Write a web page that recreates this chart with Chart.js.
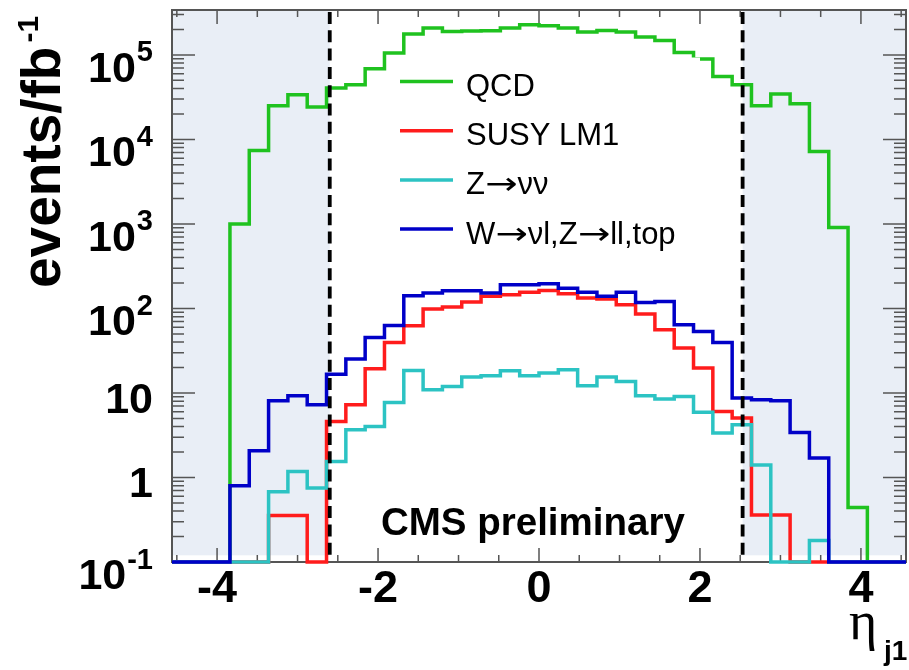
<!DOCTYPE html>
<html>
<head>
<meta charset="utf-8">
<script src="https://cdn.jsdelivr.net/npm/chart.js@4.4.0/dist/chart.umd.min.js"></script>
<style>
  html, body { margin: 0; padding: 0; background: #fff; }
  #wrap { width: 909px; height: 670px; }
</style>
</head>
<body>
<div id="wrap"><canvas id="c" width="909" height="670"></canvas></div>
<script>
// eta of leading jet, 38 bins of 0.24 from -4.56 to 4.56, events / fb^-1 per bin (0 = empty bin)
const binLow = -4.56;
const binWidth = 0.24;

const qcd  = [0, 0, 0, 1000, 7400, 25000, 33800, 24200, 40600, 44400, 68700, 105300, 176700, 208000,
              189700, 192000, 193300, 208000, 227700, 221600, 208000, 186700, 195000, 186700, 162800,
              148500, 107100, 89400, 55700, 44400, 25000, 34500, 26500, 7210, 909, 0.44, 0, 0];
const susy = [0, 0, 0, 0, 0, 0.355, 0.355, 0, 4.6, 7.25, 19.3, 39.6, 62.4, 98.4, 104, 119, 139, 145,
              155, 163, 149, 133, 129, 111, 85.9, 56, 34, 19.7, 6.04, 5.05, 0.36, 0.36, 0, 0, 0, 0, 0, 0];
const znn  = [0, 0, 0, 0, 0, 0.68, 1.18, 0.75, 1.55, 3.67, 4.0, 7.7, 18.5, 10.9, 11.9, 15.4, 16, 18.3,
              16, 17.2, 18.8, 12.2, 15.4, 13.7, 9.3, 8.5, 9.1, 5.9, 3.35, 4.2, 1.41, 0, 0, 0.18, 0, 0, 0, 0];
const wzt  = [0, 0, 0, 0.80, 2.07, 8.1, 9.3, 7.25, 16.7, 25.2, 45.4, 62.9, 141, 152, 162, 162, 152, 191,
              191, 196, 174, 155, 139, 155, 118, 121, 64, 53.4, 39.6, 8.7, 8.3, 8.1, 3.41, 1.70, 0, 0, 0, 0];

const xTickValues = [-4, -2, 0, 2, 4];
const yTickValues = [0.1, 1, 10, 100, 1000, 10000, 100000];
const yTickBase   = ['10', '1', '10', '10', '10', '10', '10'];
const yTickSup    = ['-1', '', '', '2', '3', '4', '5'];

const yMin = 0.1;
const yMax = 3.4e5;
const etaCutLow = -2.6;
const etaCutHigh = 2.53;
const bandFloor = 0.12;

const FONT = '"Liberation Sans", Arial, Helvetica, sans-serif';
const ARROW_FONT = '"DejaVu Sans", sans-serif';

function histPoints(values) {
  const pts = values.map((v, i) => ({ x: binLow + i * binWidth, y: v > 0 ? v : yMin }));
  pts.push({ x: binLow + values.length * binWidth, y: pts[pts.length - 1].y });
  return pts;
}

function hist(label, values, color, order) {
  return {
    label: label,
    data: histPoints(values),
    borderColor: color,
    backgroundColor: color,
    borderWidth: 3.5,
    stepped: 'before',
    pointRadius: 0,
    fill: false,
    clip: false,
    order: order
  };
}

// legend text, arrows taken from a font with a longer arrow glyph
function drawLabel(ctx, text, x, y, size) {
  let cx = x;
  for (const ch of text) {
    ctx.font = size + 'px ' + (ch === '\u2192' ? ARROW_FONT : FONT);
    const w = ctx.measureText(ch).width;
    if (ch === '\u2192') {
      ctx.save();
      ctx.translate(cx, y);
      ctx.scale(1.25, 1);
      ctx.fillText(ch, 0, 0);
      ctx.restore();
      cx += w * 1.25;
    } else {
      ctx.fillText(ch, cx, y);
      cx += w;
    }
  }
}

const decor = {
  id: 'decor',
  beforeDatasetsDraw(chart) {
    const { ctx, chartArea: a, scales: { x, y } } = chart;
    ctx.save();
    // forward regions
    const yb = y.getPixelForValue(bandFloor);
    const xl = x.getPixelForValue(etaCutLow);
    const xr = x.getPixelForValue(etaCutHigh);
    ctx.fillStyle = '#e9eef6';
    ctx.fillRect(a.left, a.top, xl - a.left, yb - a.top);
    ctx.fillRect(xr, a.top, a.right - xr, yb - a.top);

    // tick marks, inside the frame on all four sides
    ctx.strokeStyle = '#555';
    ctx.lineWidth = 1.5;
    ctx.beginPath();
    for (let i = -9; i <= 9; i++) {
      const v = i * 0.5;
      const px = x.getPixelForValue(v);
      const len = xTickValues.includes(v) ? 14 : 7;
      ctx.moveTo(px, a.bottom); ctx.lineTo(px, a.bottom - len);
      ctx.moveTo(px, a.top); ctx.lineTo(px, a.top + len);
    }
    for (let e = -1; e <= 5; e++) {
      for (let m = 1; m <= 9; m++) {
        const v = m * Math.pow(10, e);
        if (v < yMin || v > yMax) continue;
        const py = y.getPixelForValue(v);
        const len = m === 1 ? 23 : 12;
        ctx.moveTo(a.left, py); ctx.lineTo(a.left + len, py);
        ctx.moveTo(a.right, py); ctx.lineTo(a.right - len, py);
      }
    }
    ctx.stroke();
    ctx.lineWidth = 2;
    ctx.strokeRect(a.left, a.top, a.right - a.left, a.bottom - a.top);
    ctx.restore();
  },
  afterDatasetsDraw(chart) {
    const { ctx, chartArea: a, scales: { x, y } } = chart;
    ctx.save();
    // eta cut lines
    ctx.strokeStyle = '#000';
    ctx.lineWidth = 3.8;
    ctx.setLineDash([12, 6.3]);
    const yb = y.getPixelForValue(bandFloor);
    [etaCutLow, etaCutHigh].forEach(v => {
      const px = x.getPixelForValue(v);
      ctx.beginPath();
      ctx.moveTo(px, a.top + 2);
      ctx.lineTo(px, yb);
      ctx.stroke();
    });
    ctx.setLineDash([]);

    // legend
    ctx.fillStyle = '#fff';
    ctx.fillRect(392, 57.5, 308, 195);
    ctx.textBaseline = 'alphabetic';
    ctx.textAlign = 'left';
    chart.data.datasets.forEach((ds, i) => {
      const base = 96 + i * 49.2;
      ctx.strokeStyle = ds.borderColor;
      ctx.lineWidth = 3.5;
      ctx.beginPath();
      ctx.moveTo(400, base - 14.5);
      ctx.lineTo(453, base - 14.5);
      ctx.stroke();
      ctx.fillStyle = '#000';
      drawLabel(ctx, ds.label, 466, base, 31);
    });

    ctx.font = 'bold 38.5px ' + FONT;
    ctx.fillText('CMS preliminary', 381, 535);
    ctx.restore();
  },
  afterDraw(chart) {
    const { ctx, scales: { y } } = chart;
    ctx.save();
    ctx.fillStyle = '#000';
    ctx.textBaseline = 'alphabetic';
    // y tick labels
    yTickValues.forEach((v, i) => {
      const py = y.getPixelForValue(v);
      const right = 153;
      if (yTickSup[i]) {
        ctx.font = 'bold 29px ' + FONT;
        ctx.textAlign = 'right';
        const sw = ctx.measureText(yTickSup[i]).width;
        ctx.fillText(yTickSup[i], right, py + 6.5);
        ctx.font = 'bold 43px ' + FONT;
        ctx.fillText(yTickBase[i], right - sw - 1, py + 27);
      } else {
        ctx.font = 'bold 43px ' + FONT;
        ctx.textAlign = 'right';
        ctx.fillText(yTickBase[i], right, py + 19.6);
      }
    });

    // y title
    ctx.save();
    ctx.translate(60, 288);
    ctx.rotate(-Math.PI / 2);
    ctx.textAlign = 'left';
    ctx.font = 'bold 55px ' + FONT;
    const tw = ctx.measureText('events/fb').width;
    ctx.fillText('events/fb', 0, 0);
    ctx.font = 'bold 30px ' + FONT;
    ctx.fillText('-1', tw + 4, -22);
    ctx.restore();

    // x title
    ctx.textAlign = 'left';
    ctx.font = '54px "Liberation Serif", "DejaVu Serif", serif';
    ctx.fillText('\u03b7', 849, 639);
    ctx.font = 'bold 28px ' + FONT;
    ctx.fillText('j1', 884, 660);
    ctx.restore();
  }
};

Chart.defaults.font.family = FONT;

new Chart(document.getElementById('c'), {
  type: 'line',
  data: {
    datasets: [
      hist('QCD', qcd, '#1fc21f', 4),
      hist('SUSY LM1', susy, '#ff1c1c', 3),
      hist('Z\u2192\u03bd\u03bd', znn, '#2cc3c3', 2),
      hist('W\u2192\u03bdl,Z\u2192ll,top', wzt, '#0000c8', 1)
    ]
  },
  options: {
    responsive: false,
    animation: false,
    devicePixelRatio: 1,
    layout: { padding: { top: 10, right: 3, left: 0, bottom: 0 } },
    scales: {
      x: {
        type: 'linear',
        min: binLow,
        max: binLow + qcd.length * binWidth,
        grid: { display: false, drawTicks: false },
        border: { display: false },
        afterBuildTicks: s => { s.ticks = xTickValues.map(v => ({ value: v })); },
        afterFit: s => { s.height = 108; },
        ticks: {
          color: '#000',
          font: { size: 45, weight: 'bold' },
          padding: 1,
          maxRotation: 0,
          autoSkip: false,
          callback: v => String(v)
        }
      },
      y: {
        type: 'logarithmic',
        min: yMin,
        max: yMax,
        grid: { display: false, drawTicks: false },
        border: { display: false },
        afterBuildTicks: s => { s.ticks = yTickValues.map(v => ({ value: v })); },
        afterFit: s => { s.width = 172; },
        ticks: { display: false }
      }
    },
    plugins: {
      legend: { display: false },
      tooltip: { enabled: false }
    }
  },
  plugins: [decor]
});
</script>
</body>
</html>
